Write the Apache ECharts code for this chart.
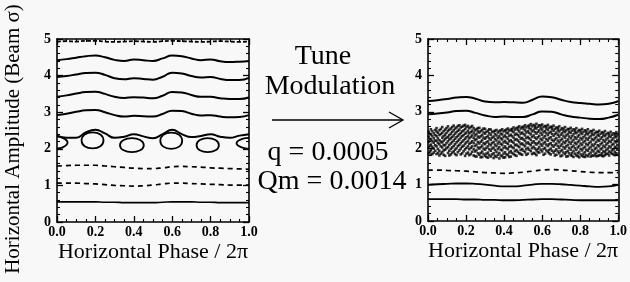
<!DOCTYPE html>
<html>
<head>
<meta charset="utf-8">
<script src="https://cdn.jsdelivr.net/npm/echarts@6/dist/echarts.min.js"></script>
<style>
html, body { margin: 0; padding: 0; background: #f8f8f8; }
#chart { width: 630px; height: 282px; }
</style>
</head>
<body>
<div id="chart"></div>
<script>
// horizontal phase / 2pi samples shared by all the smooth curves
var phase = [0, 0.05, 0.1, 0.15, 0.2, 0.25, 0.3, 0.35, 0.4, 0.45, 0.5, 0.55, 0.6, 0.65, 0.7, 0.75, 0.8, 0.85, 0.9, 0.95, 1.0];

// left panel (no modulation)
var leftTop    = [4.93, 4.94, 4.93, 4.95, 4.95, 4.93, 4.92, 4.93, 4.94, 4.93, 4.92, 4.94, 4.95, 4.94, 4.93, 4.92, 4.93, 4.94, 4.93, 4.92, 4.93];
var left44     = [4.42, 4.45, 4.49, 4.53, 4.55, 4.50, 4.43, 4.40, 4.44, 4.42, 4.40, 4.47, 4.55, 4.53, 4.47, 4.42, 4.44, 4.39, 4.37, 4.38, 4.40];
var left39     = [3.96, 3.99, 4.03, 4.07, 4.08, 4.02, 3.93, 3.90, 3.93, 3.91, 3.89, 3.97, 4.08, 4.06, 3.99, 3.95, 3.96, 3.91, 3.88, 3.88, 3.94];
var left34     = [3.42, 3.46, 3.51, 3.55, 3.56, 3.50, 3.42, 3.39, 3.41, 3.40, 3.38, 3.45, 3.55, 3.54, 3.47, 3.42, 3.42, 3.38, 3.36, 3.36, 3.40];
var left29     = [2.92, 2.96, 3.01, 3.05, 3.06, 3.00, 2.92, 2.88, 2.90, 2.89, 2.88, 2.95, 3.04, 3.03, 2.96, 2.91, 2.92, 2.88, 2.86, 2.87, 2.92];
var leftSep    = [2.36, 2.30, 2.30, 2.45, 2.52, 2.42, 2.30, 2.33, 2.40, 2.34, 2.29, 2.40, 2.52, 2.40, 2.32, 2.35, 2.40, 2.33, 2.30, 2.36, 2.40];
var left15     = [1.53, 1.54, 1.55, 1.55, 1.55, 1.53, 1.51, 1.49, 1.47, 1.46, 1.46, 1.48, 1.51, 1.52, 1.51, 1.50, 1.48, 1.47, 1.46, 1.45, 1.44];
var left10     = [1.06, 1.06, 1.06, 1.05, 1.04, 1.02, 1.00, 0.99, 0.98, 0.99, 1.01, 1.04, 1.06, 1.06, 1.05, 1.04, 1.03, 1.02, 1.01, 1.01, 1.01];
var left05     = [0.55, 0.55, 0.55, 0.55, 0.55, 0.54, 0.54, 0.53, 0.53, 0.53, 0.53, 0.54, 0.55, 0.55, 0.55, 0.54, 0.54, 0.53, 0.53, 0.53, 0.53];

// resonance islands (closed loops, [phase, amplitude])
var islands = [
  [[0, 2.33], [0.03, 2.30], [0.055, 2.17], [0.03, 2.04], [0, 2.01]],
  [[0.185, 2.45], [0.226, 2.39], [0.242, 2.23], [0.226, 2.07], [0.185, 2.01], [0.144, 2.07], [0.128, 2.23], [0.144, 2.39], [0.185, 2.45]],
  [[0.39, 2.29], [0.433, 2.24], [0.452, 2.10], [0.433, 1.96], [0.39, 1.91], [0.347, 1.96], [0.328, 2.10], [0.347, 2.24], [0.39, 2.29]],
  [[0.595, 2.44], [0.636, 2.38], [0.652, 2.22], [0.636, 2.06], [0.595, 2.00], [0.554, 2.06], [0.538, 2.22], [0.554, 2.38], [0.595, 2.44]],
  [[0.785, 2.29], [0.826, 2.24], [0.843, 2.10], [0.826, 1.96], [0.785, 1.91], [0.744, 1.96], [0.727, 2.10], [0.744, 2.24], [0.785, 2.29]],
  [[1, 2.30], [0.965, 2.27], [0.935, 2.15], [0.965, 2.03], [1, 2.00]]
];

// right panel (with tune modulation)
var right33 = [3.30, 3.32, 3.35, 3.39, 3.41, 3.36, 3.28, 3.26, 3.27, 3.26, 3.25, 3.33, 3.42, 3.40, 3.33, 3.27, 3.24, 3.22, 3.20, 3.22, 3.29];
var right29 = [2.93, 2.95, 2.98, 3.02, 3.03, 2.97, 2.90, 2.86, 2.87, 2.86, 2.86, 2.93, 3.01, 3.00, 2.93, 2.87, 2.84, 2.81, 2.80, 2.84, 2.92];
var right14 = [1.40, 1.40, 1.39, 1.38, 1.37, 1.35, 1.33, 1.32, 1.31, 1.32, 1.34, 1.37, 1.40, 1.41, 1.40, 1.38, 1.36, 1.34, 1.33, 1.33, 1.33];
var right10 = [0.99, 1.01, 1.02, 1.03, 1.03, 1.02, 1.00, 0.97, 0.95, 0.95, 0.97, 1.00, 1.02, 1.02, 1.01, 0.99, 0.97, 0.95, 0.94, 0.95, 0.99];
var right06 = [0.60, 0.60, 0.60, 0.60, 0.59, 0.59, 0.58, 0.58, 0.57, 0.57, 0.58, 0.59, 0.60, 0.60, 0.59, 0.58, 0.57, 0.57, 0.57, 0.57, 0.57];

// chaotic band: [phase, [amplitudes]] columns
var chaos = [
  [0.005, [2.45, 2.31, 2.18, 2.02, 1.86]], [0.011, [2.39, 2.25, 2.07, 1.91]],
  [0.015, [2.52, 2.38, 2.24, 2.10, 1.95, 1.82]], [0.023, [2.47, 2.33, 2.19, 2.04, 1.84]],
  [0.03, [2.41, 2.27, 2.15, 1.99, 1.88]], [0.038, [2.50, 2.36, 2.21, 2.08, 1.93]],
  [0.045, [2.55, 2.46, 2.33, 2.20, 2.05, 1.84]], [0.052, [2.42, 2.27, 2.14, 1.98, 1.87]],
  [0.06, [2.49, 2.36, 2.22, 2.11, 1.93, 1.80]], [0.067, [2.53, 2.39, 2.18, 2.05, 1.85]],
  [0.075, [2.58, 2.42, 2.29, 2.16, 2.02, 1.89]], [0.082, [2.47, 2.33, 2.21, 2.09, 1.94, 1.82]],
  [0.09, [2.51, 2.37, 2.25, 2.08, 1.96, 1.79]], [0.097, [2.55, 2.42, 2.29, 2.14, 2.00]],
  [0.105, [2.60, 2.47, 2.31, 2.19, 2.03, 1.87]], [0.112, [2.51, 2.36, 2.24, 2.09, 1.93, 1.80]],
  [0.12, [2.54, 2.40, 2.27, 2.13, 1.98, 1.83]], [0.127, [2.58, 2.45, 2.31, 2.17, 2.02, 1.88]],
  [0.135, [2.62, 2.49, 2.35, 2.21, 2.06, 1.91]], [0.142, [2.54, 2.40, 2.26, 2.11, 1.96, 1.84]],
  [0.15, [2.57, 2.44, 2.30, 2.16, 2.00, 1.81]], [0.157, [2.61, 2.48, 2.34, 2.20, 2.06, 1.89]],
  [0.165, [2.63, 2.51, 2.38, 2.24, 2.09, 1.94]], [0.172, [2.57, 2.42, 2.29, 2.14, 1.99, 1.83]],
  [0.18, [2.59, 2.46, 2.33, 2.18, 2.04, 1.86]], [0.187, [2.62, 2.49, 2.36, 2.22, 2.07, 1.92]],
  [0.195, [2.64, 2.53, 2.40, 2.26, 2.12, 1.97, 1.79]], [0.202, [2.58, 2.43, 2.30, 2.16, 2.01, 1.85]],
  [0.21, [2.61, 2.48, 2.34, 2.20, 2.05, 1.88]], [0.217, [2.55, 2.41, 2.27, 2.12, 1.97, 1.81]],
  [0.225, [2.58, 2.44, 2.31, 2.15, 2.01, 1.84]], [0.232, [2.61, 2.48, 2.35, 2.19, 2.05, 1.90]],
  [0.24, [2.55, 2.42, 2.28, 2.14, 1.97, 1.80]], [0.247, [2.49, 2.35, 2.22, 2.06, 1.91, 1.78]],
  [0.255, [2.52, 2.39, 2.25, 2.10, 1.94, 1.77]], [0.262, [2.55, 2.46, 2.32, 2.17, 2.02, 1.86]],
  [0.27, [2.56, 2.43, 2.29, 2.13, 1.99, 1.82]], [0.277, [2.47, 2.33, 2.18, 2.03, 1.87, 1.75]],
  [0.285, [2.50, 2.36, 2.22, 2.07, 1.91, 1.76]], [0.292, [2.54, 2.43, 2.29, 2.14, 1.99, 1.84]],
  [0.30, [2.53, 2.40, 2.26, 2.11, 1.96, 1.79]], [0.307, [2.45, 2.30, 2.16, 2.01, 1.85, 1.76]],
  [0.315, [2.48, 2.34, 2.19, 2.05, 1.88, 1.74]], [0.322, [2.52, 2.41, 2.27, 2.12, 1.97, 1.81]],
  [0.33, [2.51, 2.37, 2.23, 2.08, 1.93, 1.77]], [0.337, [2.44, 2.29, 2.14, 1.99, 1.83]],
  [0.345, [2.46, 2.32, 2.17, 2.02, 1.86, 1.73]], [0.352, [2.48, 2.39, 2.25, 2.10, 1.95, 1.79]],
  [0.36, [2.50, 2.35, 2.21, 2.06, 1.90, 1.76]], [0.367, [2.43, 2.28, 2.13, 1.98, 1.82]],
  [0.375, [2.47, 2.33, 2.18, 2.03, 1.87, 1.72]], [0.382, [2.49, 2.40, 2.27, 2.12, 1.96, 1.80]],
  [0.39, [2.52, 2.38, 2.24, 2.09, 1.94, 1.78]], [0.397, [2.46, 2.31, 2.16, 2.01, 1.85, 1.74]],
  [0.405, [2.49, 2.35, 2.20, 2.05, 1.89, 1.75]], [0.412, [2.51, 2.43, 2.30, 2.15, 2.00, 1.83]],
  [0.42, [2.54, 2.41, 2.26, 2.12, 1.97, 1.81]], [0.427, [2.48, 2.34, 2.19, 2.04, 1.88, 1.76]],
  [0.435, [2.51, 2.37, 2.22, 2.07, 1.92, 1.77]], [0.442, [2.53, 2.47, 2.33, 2.18, 2.03, 1.87]],
  [0.45, [2.57, 2.44, 2.29, 2.15, 2.00, 1.84]], [0.457, [2.51, 2.37, 2.23, 2.08, 1.92, 1.81]],
  [0.465, [2.55, 2.40, 2.25, 2.10, 1.95, 1.79]], [0.472, [2.57, 2.50, 2.36, 2.21, 2.06, 1.90]],
  [0.48, [2.60, 2.46, 2.32, 2.17, 2.03, 1.86]], [0.487, [2.54, 2.40, 2.26, 2.11, 1.95, 1.84]],
  [0.495, [2.58, 2.43, 2.28, 2.13, 1.98, 1.82]], [0.502, [2.59, 2.53, 2.39, 2.24, 2.09, 1.93]],
  [0.51, [2.63, 2.49, 2.35, 2.20, 2.05, 1.89]], [0.517, [2.57, 2.43, 2.28, 2.13, 1.97, 1.82]],
  [0.525, [2.61, 2.47, 2.31, 2.16, 2.01, 1.85]], [0.532, [2.62, 2.55, 2.42, 2.27, 2.12, 1.96]],
  [0.54, [2.66, 2.52, 2.38, 2.23, 2.08, 1.92]], [0.547, [2.60, 2.46, 2.31, 2.15, 2.00, 1.84]],
  [0.555, [2.64, 2.50, 2.35, 2.19, 2.04, 1.87]], [0.562, [2.61, 2.56, 2.44, 2.29, 2.14, 1.99, 1.85]],
  [0.57, [2.67, 2.54, 2.40, 2.25, 2.10, 1.94, 1.81]], [0.577, [2.59, 2.45, 2.30, 2.14, 1.98, 1.89]],
  [0.585, [2.63, 2.49, 2.34, 2.18, 2.03, 1.88]], [0.592, [2.62, 2.55, 2.42, 2.26, 2.11, 1.96]],
  [0.60, [2.65, 2.51, 2.37, 2.22, 2.07, 1.91]], [0.607, [2.58, 2.44, 2.29, 2.13, 1.98, 1.82]],
  [0.615, [2.61, 2.47, 2.33, 2.17, 2.01, 1.85]], [0.622, [2.60, 2.54, 2.41, 2.25, 2.10, 1.94]],
  [0.63, [2.64, 2.50, 2.36, 2.21, 2.06, 1.90]], [0.637, [2.56, 2.42, 2.27, 2.11, 1.95, 1.86]],
  [0.645, [2.59, 2.45, 2.30, 2.14, 1.99, 1.83]], [0.652, [2.58, 2.52, 2.39, 2.23, 2.08, 1.93]],
  [0.66, [2.62, 2.48, 2.34, 2.19, 2.04, 1.88]], [0.667, [2.53, 2.39, 2.24, 2.09, 1.93, 1.80]],
  [0.675, [2.57, 2.43, 2.28, 2.13, 1.97, 1.82]], [0.682, [2.56, 2.50, 2.37, 2.21, 2.06, 1.91]],
  [0.69, [2.60, 2.46, 2.31, 2.16, 2.01, 1.86]], [0.697, [2.51, 2.37, 2.22, 2.07, 1.92, 1.78]],
  [0.705, [2.55, 2.41, 2.26, 2.11, 1.95, 1.80]], [0.712, [2.53, 2.47, 2.34, 2.18, 2.03, 1.88]],
  [0.72, [2.58, 2.44, 2.29, 2.14, 1.99, 1.84]], [0.727, [2.49, 2.35, 2.20, 2.05, 1.89, 1.77]],
  [0.735, [2.53, 2.39, 2.24, 2.09, 1.93, 1.78]], [0.742, [2.52, 2.45, 2.32, 2.17, 2.01, 1.86]],
  [0.75, [2.56, 2.42, 2.27, 2.12, 1.96, 1.81]], [0.757, [2.48, 2.33, 2.18, 2.03, 1.87, 1.79]],
  [0.765, [2.52, 2.38, 2.23, 2.07, 1.92, 1.76]], [0.772, [2.50, 2.44, 2.30, 2.15, 2.00, 1.85]],
  [0.78, [2.55, 2.41, 2.26, 2.11, 1.95, 1.80]], [0.787, [2.46, 2.32, 2.17, 2.02, 1.86, 1.78]],
  [0.795, [2.50, 2.36, 2.21, 2.06, 1.90, 1.75]], [0.802, [2.49, 2.43, 2.28, 2.13, 1.98, 1.83]],
  [0.81, [2.53, 2.39, 2.24, 2.09, 1.94, 1.79]], [0.817, [2.45, 2.30, 2.16, 2.00, 1.85, 1.77]],
  [0.825, [2.49, 2.35, 2.20, 2.04, 1.89, 1.76]], [0.832, [2.47, 2.41, 2.27, 2.12, 1.96, 1.81]],
  [0.84, [2.52, 2.38, 2.23, 2.08, 1.93, 1.78]], [0.847, [2.43, 2.29, 2.14, 1.99, 1.84]],
  [0.855, [2.47, 2.33, 2.18, 2.03, 1.88, 1.77]], [0.862, [2.46, 2.39, 2.25, 2.10, 1.95, 1.80]],
  [0.87, [2.50, 2.36, 2.22, 2.06, 1.91, 1.79]], [0.877, [2.41, 2.27, 2.12, 1.98, 1.83]],
  [0.885, [2.45, 2.31, 2.17, 2.01, 1.87, 1.78]], [0.892, [2.44, 2.37, 2.23, 2.08, 1.93, 1.79]],
  [0.90, [2.48, 2.34, 2.20, 2.05, 1.90, 1.80]], [0.907, [2.40, 2.26, 2.11, 1.97, 1.82]],
  [0.915, [2.44, 2.30, 2.15, 2.00, 1.86, 1.79]], [0.922, [2.42, 2.36, 2.22, 2.07, 1.92, 1.78]],
  [0.93, [2.47, 2.33, 2.18, 2.03, 1.89, 1.81]], [0.937, [2.38, 2.24, 2.10, 1.95, 1.84]],
  [0.945, [2.42, 2.28, 2.14, 1.99, 1.85]], [0.952, [2.40, 2.34, 2.20, 2.05, 1.91, 1.80]],
  [0.96, [2.45, 2.31, 2.17, 2.02, 1.88]], [0.967, [2.37, 2.23, 2.09, 1.94, 1.85]],
  [0.975, [2.41, 2.27, 2.12, 1.97, 1.83]], [0.982, [2.39, 2.33, 2.19, 2.04, 1.90, 1.81]],
  [0.99, [2.44, 2.30, 2.16, 2.01, 1.86]], [0.995, [2.36, 2.22, 2.08, 1.96, 1.82]]
];

var FONT = 'Liberation Serif';

function curve(ys) {
  return phase.map(function (p, i) { return [p, ys[i]]; });
}

function xAxisOf(grid, bottom) {
  return {
    type: 'value', gridIndex: grid, min: 0, max: 1, interval: 0.2,
    position: bottom ? 'bottom' : 'top',
    name: bottom ? 'Horizontal Phase / 2\u03c0' : '',
    nameLocation: 'middle', nameGap: 19, nameMoveOverlap: false,
    nameTextStyle: {fontFamily: FONT, fontSize: 22, color: '#000'},
    axisLine: {onZero: false, lineStyle: {color: '#000', width: 1.6}},
    axisTick: {inside: true, length: 6, lineStyle: {color: '#000', width: 1.3}},
    minorTick: {show: true, splitNumber: 4, length: 3, lineStyle: {color: '#000', width: 1.1}},
    splitLine: {show: false},
    axisLabel: {
      show: bottom, margin: 3, color: '#000', fontFamily: FONT, fontWeight: 'bold', fontSize: 14,
      formatter: function (v) { return v.toFixed(1); }
    }
  };
}

function yAxisOf(grid, left) {
  return {
    type: 'value', gridIndex: grid, min: 0, max: 5, interval: 1,
    position: left ? 'left' : 'right',
    axisLine: {onZero: false, lineStyle: {color: '#000', width: 1.6}},
    axisTick: {inside: true, length: 6, lineStyle: {color: '#000', width: 1.3}},
    minorTick: {show: true, splitNumber: 5, length: 3, lineStyle: {color: '#000', width: 1.1}},
    splitLine: {show: false},
    axisLabel: {show: left, margin: 6, color: '#000', fontFamily: FONT, fontWeight: 'bold', fontSize: 14}
  };
}

function line(data, panel, dash, w) {
  return {
    type: 'line', xAxisIndex: panel * 2, yAxisIndex: panel * 2,
    data: data, symbol: 'none', smooth: true, silent: true,
    lineStyle: {color: '#000', width: w || 2, type: dash || 'solid'}
  };
}

var series = [
  line(curve(leftTop), 0, [4, 2], 1.8),
  line(curve(left44), 0),
  line(curve(left39), 0),
  line(curve(left34), 0),
  line(curve(left29), 0),
  line(curve(leftSep), 0),
  line(curve(left15), 0, [5, 4], 1.7),
  line(curve(left10), 0, [5, 4], 1.7),
  line(curve(left05), 0, 'solid', 1.6),
  line(curve(right33), 1),
  line(curve(right29), 1),
  line(curve(right14), 1, [5, 4], 1.7),
  line(curve(right10), 1, 'solid', 1.8),
  line(curve(right06), 1, 'solid', 1.8)
];

islands.forEach(function (isl) {
  series.push(line(isl, 0, 'solid', 1.8));
});

var chaosPts = [];
chaos.forEach(function (col) {
  col[1].forEach(function (a) { chaosPts.push([col[0], a]); });
});
series.push({
  type: 'scatter', xAxisIndex: 2, yAxisIndex: 2, data: chaosPts,
  symbol: 'rect', symbolSize: 2.6, silent: true, itemStyle: {color: '#000'}
});

var txt = {fontFamily: FONT, fontSize: 28, fill: '#000', textAlign: 'center', textVerticalAlign: 'middle'};

var myChart = echarts.init(document.getElementById('chart'));
myChart.setOption({
  backgroundColor: '#f8f8f8',
  animation: false,
  grid: [
    {left: 57, top: 39, width: 192, height: 183},
    {left: 428, top: 39, width: 193, height: 182}
  ],
  xAxis: [xAxisOf(0, true), xAxisOf(0, false), xAxisOf(1, true), xAxisOf(1, false)],
  yAxis: [yAxisOf(0, true), yAxisOf(0, false), yAxisOf(1, true), yAxisOf(1, false)],
  series: series,
  graphic: [
    {type: 'text', x: 13, y: 139, rotation: Math.PI / 2,
     style: {text: 'Horizontal Amplitude (Beam \u03c3)', fontFamily: FONT, fontSize: 21, fill: '#000', textAlign: 'center', textVerticalAlign: 'middle'}},
    {type: 'text', x: 323, y: 57, style: Object.assign({text: 'Tune'}, txt)},
    {type: 'text', x: 330, y: 87, style: Object.assign({text: 'Modulation'}, txt)},
    {type: 'line', shape: {x1: 272, y1: 120, x2: 402, y2: 120}, style: {stroke: '#000', lineWidth: 1.3}},
    {type: 'polyline', shape: {points: [[389, 112], [403, 120], [389, 128]]}, style: {stroke: '#000', lineWidth: 1.3, fill: null}},
    {type: 'text', x: 328, y: 153, style: Object.assign({text: 'q = 0.0005'}, txt)},
    {type: 'text', x: 332, y: 182, style: Object.assign({text: 'Qm = 0.0014'}, txt)}
  ]
});
</script>
</body>
</html>
